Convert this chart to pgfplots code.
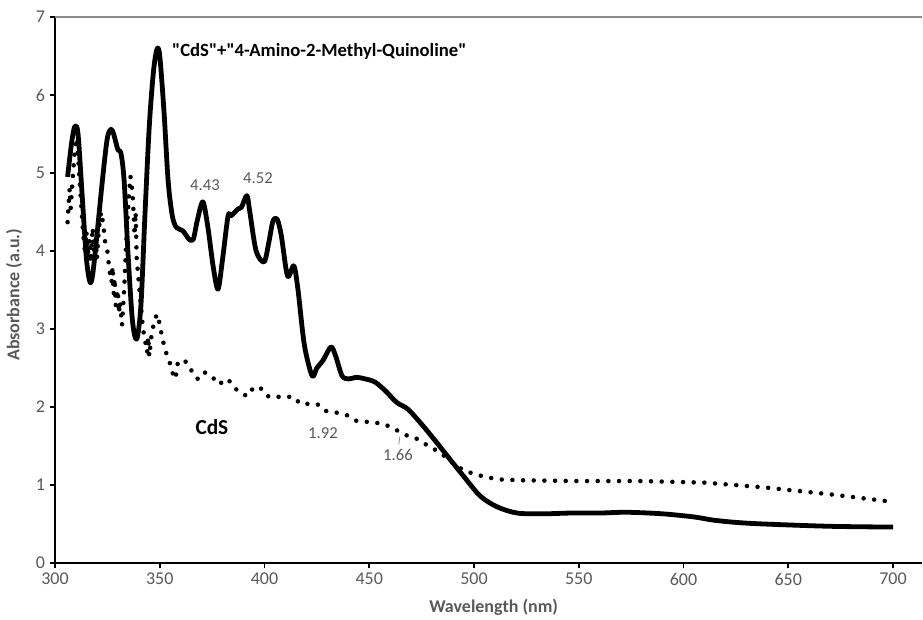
\documentclass[border=0pt]{standalone}
\usepackage{pgfplots}
\pgfplotsset{compat=1.18}
\usepackage{fontspec}
\setmainfont{Carlito}[Ligatures=TeXOff]
\definecolor{txtgray}{HTML}{595959}
\definecolor{linegray}{HTML}{8C8C8C}
\begin{document}
\begin{tikzpicture}
\begin{axis}[
  scale only axis,
  width=650.25pt, height=409.5pt,
  xmin=300, xmax=713.8, ymin=0, ymax=7,
  axis x line*=bottom, axis y line*=left,
  axis line style={line width=1.6pt, black, -},
  xtick={300,350,...,700}, ytick={0,1,...,7},
  tick align=outside, major tick length=4pt,
  tick style={line width=1.2pt, black},
  ticklabel style={font=\fontsize{13.5}{15}\selectfont, text=txtgray},
  /pgf/number format/assume math mode=true,
  xlabel={Wavelength (nm)}, ylabel={Absorbance (a.u.)},
  every axis x label/.style={at={(axis description cs:0.506,0)}, yshift=-33pt, anchor=center, font=\bfseries\fontsize{13.5}{15}\selectfont, text=txtgray},
  every axis y label/.style={at={(axis description cs:0,0.491)}, xshift=-30.75pt, anchor=center, rotate=90, font=\bfseries\fontsize{13.5}{15}\selectfont, text=txtgray},
  clip=false,
]
\draw[linegray, line width=0.8pt] (axis cs:300,7) -- (axis cs:713.8,7);
% CdS (dotted)
\addplot[black, line width=3.4pt, line cap=round, line join=round, dash pattern=on 0pt off 8pt] coordinates {
(306,4.37)(306.5,4.6)(307,4.8)(307.5,4.55)(308,4.75)(308.5,4.95)(309.5,5.3)(310.5,5.45)(311.5,5.0)(312.5,4.6)
(313.5,4.2)(314.5,3.95)(315,4.25)(315.5,3.9)(316.5,4.15)(317,3.85)(318,4.3)(318.5,4.0)(319.5,4.15)(320,3.9)
(321,4.3)(322,4.5)(323,4.35)(324,4.1)(325,4.0)(326,3.75)(327,3.6)(327.5,3.8)(328,3.45)(328.5,3.65)
(329,3.3)(330,3.5)(330.5,3.2)(331,3.35)(332,3.05)(333,3.5)(334,4.1)(335,4.6)(336,4.96)(337,4.75)
(337.5,4.5)(338,4.2)(338.5,4.5)(339,3.9)(340,3.6)(341,3.3)(342,3.0)(343,2.85)(344,2.7)(344.5,2.9)
(345,2.65)(346,2.9)(347,3.05)(348,3.15)(349,3.19)(350,3.05)(351.5,2.85)(353,2.7)(355,2.55)(356.5,2.4)
(357.5,2.36)(358.5,2.55)(360.5,2.61)(363,2.57)(365.5,2.45)(368,2.36)(371,2.45)(375,2.39)(378,2.29)(382.6,2.36)
(385,2.26)(389,2.17)(392,2.14)(395,2.26)(399,2.23)(402,2.13)(409,2.13)(414,2.13)(417,2.04)(425,2.04)
(429,1.95)(434,1.93)(439,1.9)(444,1.82)(453,1.8)(458,1.77)(464,1.69)(469,1.62)(473,1.59)(477,1.52)
(481,1.46)(485,1.39)(489,1.3)(493,1.22)(498,1.16)(503,1.12)(508,1.09)(513,1.07)(522,1.06)(550,1.05)
(580,1.05)(610,1.03)(638,0.97)(670,0.88)(701,0.78)
};
% CdS + 4-Amino-2-Methyl-Quinoline (solid)
\addplot[black, line width=3.6pt, smooth, tension=0.5, line join=round] coordinates {
(306,4.95)(308,5.4)(309.5,5.6)(311,5.5)(313,4.7)(315,3.9)(316.7,3.6)(318,3.7)(320,4.2)(323,5.0)
(325,5.45)(326.7,5.56)(328,5.5)(330,5.3)(331.5,5.25)(333,4.9)(335,3.9)(337,3.1)(339,2.87)(341,3.3)
(343,4.5)(345,5.6)(347,6.3)(348.7,6.59)(350,6.5)(352,5.8)(354,4.9)(356,4.45)(358,4.3)(361,4.26)
(364,4.15)(366,4.15)(368,4.4)(370.6,4.63)(373,4.3)(375.5,3.8)(377.8,3.51)(380,3.9)(382.6,4.45)(384,4.45)
(387.4,4.54)(389,4.56)(391.6,4.71)(393,4.5)(396,4.0)(399.8,3.86)(402,4.1)(404,4.38)(406,4.41)(408,4.2)
(411,3.68)(414,3.81)(416,3.5)(419,2.8)(422.7,2.4)(425,2.5)(428,2.6)(431.7,2.77)(434,2.65)(437,2.4)
(440,2.36)(444,2.38)(448,2.36)(452.7,2.32)(458,2.2)(463,2.06)(468.5,1.97)(475.6,1.76)(482,1.55)(488.5,1.33)
(494.8,1.12)(502.9,0.86)(511,0.72)(520.5,0.64)(533,0.63)(546,0.64)(560,0.64)(573,0.65)(590,0.63)(605,0.59)
(614,0.55)(625,0.52)(638,0.5)(670,0.47)(700,0.46)
};
\node[anchor=west, inner sep=0pt, font=\bfseries\fontsize{14}{16}\selectfont] at (axis cs:355.8,6.555) {"CdS"+"4-Amino-2-Methyl-Quinoline"};
\node[font=\bfseries\fontsize{16}{18}\selectfont] at (axis cs:374.9,1.74) {CdS};
\node[font=\fontsize{12.5}{14}\selectfont, text=txtgray] at (axis cs:371.6,4.85) {4.43};
\node[font=\fontsize{12.5}{14}\selectfont, text=txtgray] at (axis cs:396.9,4.94) {4.52};
\node[font=\fontsize{12.5}{14}\selectfont, text=txtgray] at (axis cs:427.9,1.67) {1.92};
\node[font=\fontsize{12.5}{14}\selectfont, text=txtgray] at (axis cs:463.7,1.385) {1.66};
\draw[linegray, line width=0.6pt] (axis cs:464.6,1.62) -- (axis cs:464.1,1.52);
\end{axis}
\path (-41.25pt,-40.5pt) rectangle (651pt,422.25pt);
\end{tikzpicture}
\end{document}
